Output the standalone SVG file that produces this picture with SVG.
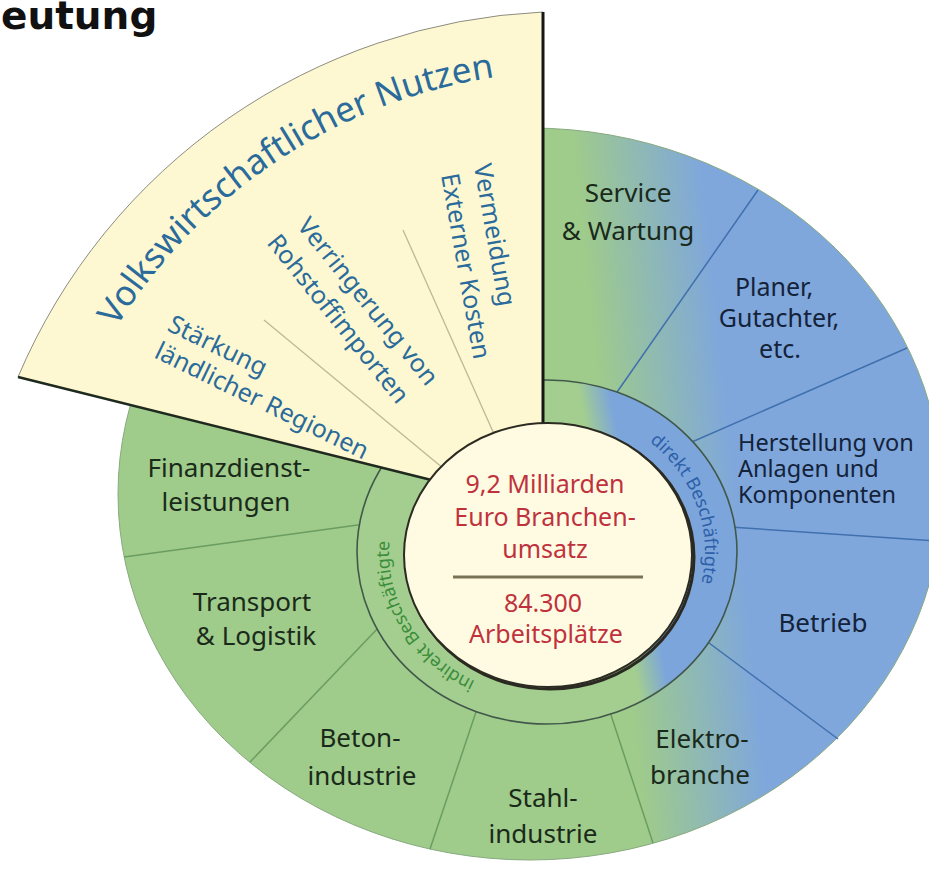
<svg xmlns="http://www.w3.org/2000/svg" xmlns:xlink="http://www.w3.org/1999/xlink" width="929" height="872" viewBox="0 0 929 872">
<style>
.lbl{font-family:"Noto Sans","DejaVu Sans",sans-serif;font-size:26px;text-anchor:middle}
.g{fill:#1a2a1a}
.b{fill:#14223a}
.pl{font-size:25px}
.hs{font-family:"Noto Sans","DejaVu Sans",sans-serif;font-size:23.5px;fill:#14223a}
.ctr{font-family:"Noto Sans","DejaVu Sans",sans-serif;font-size:25px;fill:#bf323d;text-anchor:middle}
.fan{font-family:"Noto Sans","DejaVu Sans",sans-serif;font-size:25px;fill:#2b6b9b}
.seg{stroke-width:1.5;fill:none}
.sg{stroke:#6a9e60}
.sb{stroke:#4070ad}
.ring{font-family:"Noto Sans","DejaVu Sans",sans-serif;font-size:18px}
</style>
<defs>
<linearGradient id="outerGrad" gradientUnits="userSpaceOnUse" x1="580" y1="207" x2="705" y2="194">
<stop offset="0" stop-color="#9fcb8b"/>
<stop offset="1" stop-color="#7fa7dc"/>
</linearGradient>
<linearGradient id="midGrad" gradientUnits="userSpaceOnUse" x1="585" y1="423" x2="615" y2="417">
<stop offset="0" stop-color="#a3ce8f"/>
<stop offset="1" stop-color="#7ca5dc"/>
</linearGradient>
<path id="direktPath" d="M547,407 A158 145 0 0 1 547,697"/>
<path id="indirektPath" d="M547,697 A158 145 0 0 1 547,407"/>
<path id="fanArc" d="M116.5,327.2 A540 540 0 0 1 623.1,73.1"/>
</defs>

<text x="1" y="29" font-family="DejaVu Sans, sans-serif" font-weight="bold" font-size="39" fill="#111">eutung</text>

<g id="outer-ring">
<ellipse cx="530" cy="494" rx="412" ry="366" fill="url(#outerGrad)" stroke="#88aa80" stroke-width="1"/>
</g>

<g id="connectors">
<line class="seg sg" x1="365" y1="524" x2="124" y2="557"/>
<line class="seg sg" x1="380" y1="626" x2="250" y2="762"/>
<line class="seg sg" x1="478" y1="706" x2="430" y2="849"/>
<line class="seg sg" x1="610" y1="712" x2="653" y2="843"/>
<line class="seg sb" x1="705" y1="640" x2="838" y2="739"/>
<line class="seg sb" x1="730" y1="527" x2="938" y2="541"/>
<line class="seg sb" x1="685" y1="445" x2="907" y2="348"/>
<line class="seg sb" x1="615" y1="395" x2="758" y2="190"/>
</g>

<g id="middle-ring">
<ellipse cx="547" cy="552" rx="190" ry="172" fill="url(#midGrad)" stroke="#41584a" stroke-width="1.6"/>
<text class="ring" fill="#2d60a8"><textPath xlink:href="#direktPath" startOffset="110">direkt Beschäftigte</textPath></text>
<text class="ring" fill="#3b8d3b"><textPath xlink:href="#indirektPath" startOffset="74">indirekt Beschäftigte</textPath></text>
</g>

<g id="fan">
<path d="M543,12 A600 600 0 0 0 18,377 L548,509 L543,509 Z" fill="#fdf8d2" stroke="#8c8c80" stroke-width="1"/>
<line x1="18" y1="377" x2="548" y2="509" stroke="#1e2a1e" stroke-width="2.6"/>
<line x1="543" y1="12" x2="543" y2="430" stroke="#161616" stroke-width="3"/>
<line x1="264" y1="320" x2="548" y2="555" stroke="#bfb795" stroke-width="1.3"/>
<line x1="403" y1="230" x2="548" y2="555" stroke="#bfb795" stroke-width="1.3"/>
<text font-family="Noto Sans, DejaVu Sans, sans-serif" font-size="35" fill="#2b6b9b"><textPath xlink:href="#fanArc" startOffset="0">Volkswirtschaftlicher Nutzen</textPath></text>
<g transform="translate(153,357) rotate(26)">
<text class="fan" x="0" y="-30">Stärkung</text>
<text class="fan" x="0" y="0">ländlicher Regionen</text>
</g>
<g transform="translate(266,243) rotate(51)">
<text class="fan" x="6" y="-34">Verringerung von</text>
<text class="fan" x="0" y="0">Rohstoffimporten</text>
</g>
<g transform="translate(441,175) rotate(80)">
<text class="fan" x="-4" y="-34">Vermeidung</text>
<text class="fan" x="0" y="0">Externer Kosten</text>
</g>
</g>

<g id="center">
<ellipse cx="550" cy="557" rx="144" ry="132" fill="none" stroke="#2a2a22" stroke-width="3"/>
<ellipse cx="548" cy="555" rx="144" ry="132" fill="#fffbe2" stroke="#2b2b22" stroke-width="2"/>
<text class="ctr" x="545" y="493">9,2 Milliarden</text>
<text class="ctr" x="545" y="526">Euro Branchen-</text>
<text class="ctr" x="545" y="558">umsatz</text>
<line x1="453" y1="577" x2="643" y2="577" stroke="#7a7256" stroke-width="3"/>
<text class="ctr" x="543" y="612">84.300</text>
<text class="ctr" x="546" y="643">Arbeitsplätze</text>
</g>

<g id="service"><text class="lbl g" x="628" y="202">Service</text><text class="lbl g" x="628" y="240">&amp; Wartung</text></g>
<g id="planer"><text class="lbl b pl" x="774" y="296">Planer,</text><text class="lbl b pl" x="779" y="327">Gutachter,</text><text class="lbl b pl" x="780" y="358">etc.</text></g>
<g id="herstellung"><text class="hs" x="738" y="451">Herstellung von</text><text class="hs" x="738" y="477">Anlagen und</text><text class="hs" x="738" y="503">Komponenten</text></g>
<g id="betrieb"><text class="lbl b" x="823" y="632">Betrieb</text></g>
<g id="elektro"><text class="lbl g" x="702" y="748">Elektro-</text><text class="lbl g" x="700" y="784">branche</text></g>
<g id="stahl"><text class="lbl g" x="543" y="807">Stahl-</text><text class="lbl g" x="543" y="843">industrie</text></g>
<g id="beton"><text class="lbl g" x="360" y="747">Beton-</text><text class="lbl g" x="362" y="785">industrie</text></g>
<g id="transport"><text class="lbl g" x="252" y="611">Transport</text><text class="lbl g" x="256" y="645">&amp; Logistik</text></g>
<g id="finanz"><text class="lbl g" x="229" y="477">Finanzdienst-</text><text class="lbl g" x="226" y="511">leistungen</text></g>
</svg>
